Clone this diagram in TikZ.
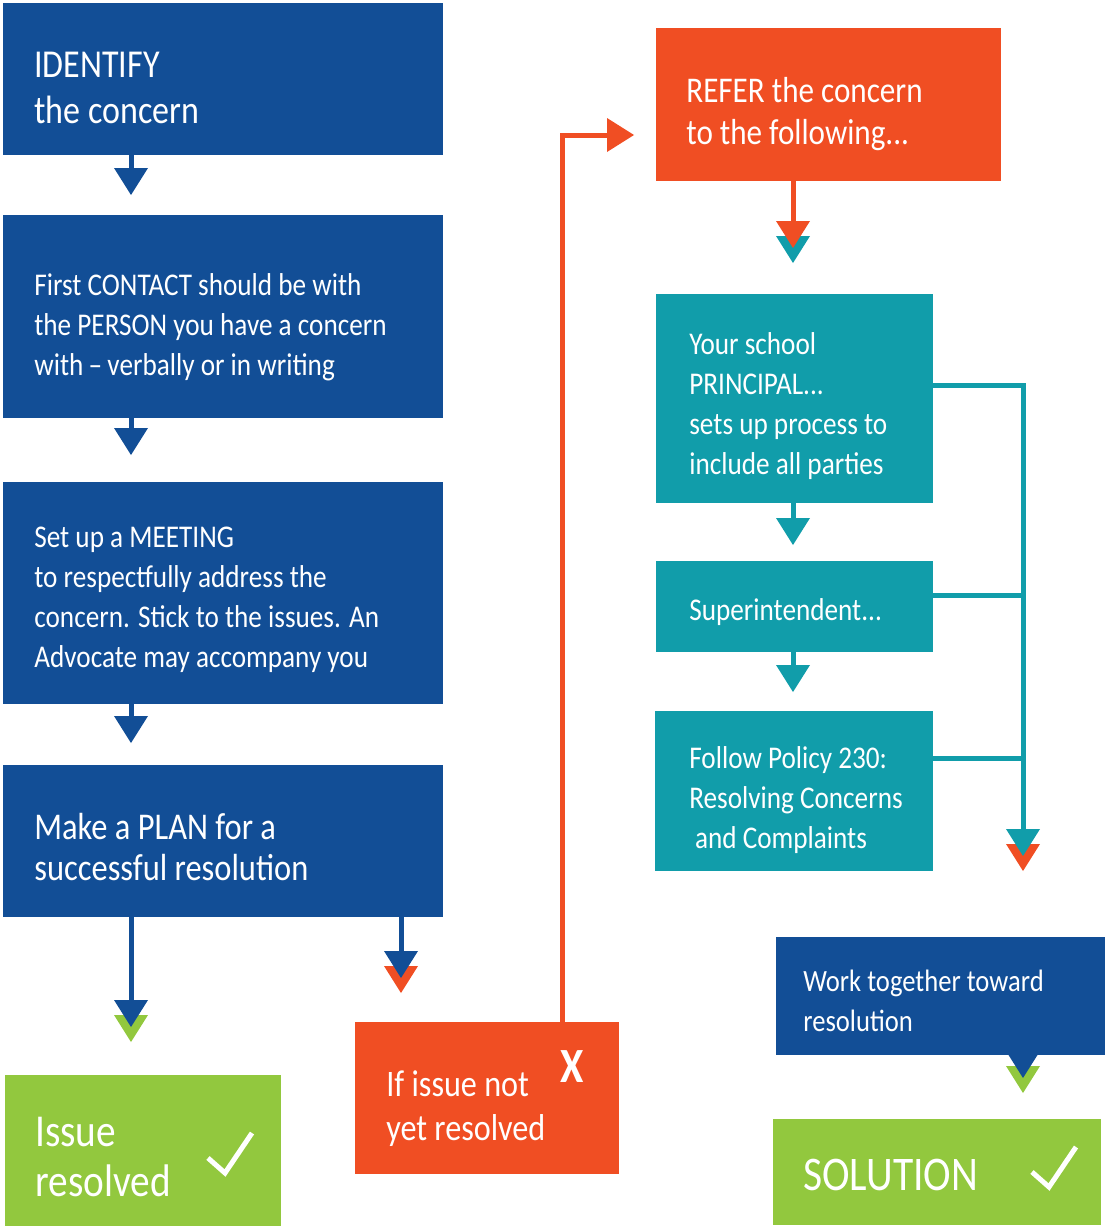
\documentclass[tikz,border=0pt]{standalone}
\usepackage{fontspec}
\setmainfont{Carlito}[FakeStretch=0.86]
\usetikzlibrary{calc}
\definecolor{navy}{HTML}{124E96}
\definecolor{flame}{HTML}{F04E23}
\definecolor{sea}{HTML}{119DAA}
\definecolor{lime}{HTML}{92C83E}
\newcommand{\pxlen}{0.02cm}
\tikzset{
  box/.style 2 args={anchor=north west, inner sep=0pt, outer sep=0pt,
    minimum width=#1*\pxlen, minimum height=#2*\pxlen},
  txt/.style={anchor=west, align=left, inner sep=0pt, text=white},
  body/.style={txt, font=\fontsize{18pt}{22.8pt}\selectfont},
  large/.style={txt, font=\fontsize{22.5pt}{26pt}\selectfont},
  huge/.style={txt, font=\fontsize{26pt}{29pt}\selectfont},
  link/.style={line width=5*\pxlen, line join=miter},
  pics/tip/.style={code={\fill[#1] (0,0)--(-17,-27)--(17,-27)--cycle;}},
  pics/tiptwo/.style 2 args={code={
    \fill[#2] (0,0)--(-17,-27)--(17,-27)--cycle;
    \fill[#1] (0,-15)--(-17,-42)--(17,-42)--cycle;}},
  tick/.style={draw=white, line width=5*\pxlen, line join=miter}
}
\begin{document}
\begin{tikzpicture}[x=0.02cm, y=-0.02cm]
\useasboundingbox (0,0) rectangle (1106,1227);
% left column
\node[box={440}{152}, fill=navy] (identify) at (3,3) {};
\node[large] (identifytxt) at (34,88) {IDENTIFY\\the concern};
\node[box={440}{203}, fill=navy] (contact) at (3,215) {};
\node[body] (contacttxt) at (34,327) {First CONTACT should be with\\the PERSON you have a concern\\with\,--\,verbally or in writing};
\node[box={440}{222}, fill=navy] (meeting) at (3,482) {};
\node[body] (meetingtxt) at (34,600) {Set up a MEETING\\to respectfully address the\\concern. Stick to the issues. An\\Advocate may accompany you};
\node[box={440}{152}, fill=navy] (plan) at (3,765) {};
\node[txt, font=\fontsize{21.5pt}{22.8pt}\selectfont] (plantxt) at (34,847) {Make a PLAN for a\\successful resolution};
\node[box={276}{151}, fill=lime] (resolved) at (5,1075) {};
\node[huge] (resolvedtxt) at (35,1157) {Issue\\resolved};
\draw[tick] (208,1158) -- (225,1173) -- (252,1133);
\node[box={264}{152}, fill=flame] (notyet) at (355,1022) {};
\node[txt, font=\fontsize{21.3pt}{25pt}\selectfont] (notyettxt) at (386,1109) {If issue not\\yet resolved};
\node[txt, font=\bfseries\fontsize{28pt}{28pt}\selectfont] (cross) at (572,1067) [anchor=center] {X};
% right column
\node[box={345}{153}, fill=flame] (refer) at (656,28) {};
\node[txt, font=\fontsize{20.6pt}{23.5pt}\selectfont] (refertxt) at (686,114) {REFER the concern\\to the following...};
\node[box={277}{209}, fill=sea] (principal) at (656,294) {};
\node[body] (principaltxt) at (689,406) {Your school\\PRINCIPAL...\\sets up process to\\include all parties};
\node[box={277}{91}, fill=sea] (super) at (656,561) {};
\node[body] (supertxt) at (689,612) {Superintendent...};
\node[box={278}{160}, fill=sea] (policy) at (655,711) {};
\node[body] (policytxt) at (689,800) {Follow Policy 230:\\Resolving Concerns\\\hspace{0.18em}and Complaints};
\node[box={329}{118}, fill=navy] (together) at (776,937) {};
\node[txt, font=\fontsize{17.6pt}{22.8pt}\selectfont] (togethertxt) at (803,1001) {Work together toward\\resolution};
\node[box={328}{106}, fill=lime] (solution) at (773,1119) {};
\node[txt, font=\fontsize{27.5pt}{29pt}\selectfont] (solutiontxt) at (803,1175) {SOLUTION};
\draw[tick] (1032,1172) -- (1049,1187) -- (1076,1147);
% arrows
\coordinate (t1) at (131,195);
\coordinate (t2) at (131,455);
\coordinate (t3) at (131,743);
\coordinate (t4) at (131,1042);
\coordinate (t5) at (401,993);
\coordinate (t6) at (634,135);
\coordinate (bend) at (562,135);
\coordinate (t7) at (793,263);
\coordinate (t8) at (793,545);
\coordinate (t9) at (793,692);
\coordinate (j1) at (1023,385);
\coordinate (j2) at (1023,595);
\coordinate (j3) at (1023,758);
\coordinate (t10) at (1023,871);
\coordinate (t11) at (1023,1093);
\draw[link, navy] (identify.south -| t1) -- ($(t1)+(0,-20)$);
\pic at (t1) {tip=navy};
\draw[link, navy] (contact.south -| t2) -- ($(t2)+(0,-20)$);
\pic at (t2) {tip=navy};
\draw[link, navy] (meeting.south -| t3) -- ($(t3)+(0,-20)$);
\pic at (t3) {tip=navy};
\draw[link, navy] (plan.south -| t4) -- ($(t4)+(0,-35)$);
\pic at (t4) {tiptwo={navy}{lime}};
\draw[link, navy] (plan.south -| t5) -- ($(t5)+(0,-35)$);
\pic at (t5) {tiptwo={navy}{flame}};
\draw[link, flame] (notyet.north -| bend) -- (bend) -- ($(t6)+(-20,0)$);
\pic[rotate=90] at (t6) {tip=flame};
\draw[link, flame] (refer.south -| t7) -- ($(t7)+(0,-35)$);
\pic at (t7) {tiptwo={flame}{sea}};
\draw[link, sea] (principal.south -| t8) -- ($(t8)+(0,-20)$);
\pic at (t8) {tip=sea};
\draw[link, sea] (super.south -| t9) -- ($(t9)+(0,-20)$);
\pic at (t9) {tip=sea};
\draw[link, sea] (principal.east |- j1) -- (j1) -- ($(t10)+(0,-35)$);
\draw[link, sea] (super.east |- j2) -- (j2);
\draw[link, sea] (policy.east |- j3) -- (j3);
\pic at (t10) {tiptwo={sea}{flame}};
\pic at (t11) {tiptwo={navy}{lime}};
\end{tikzpicture}
\end{document}
